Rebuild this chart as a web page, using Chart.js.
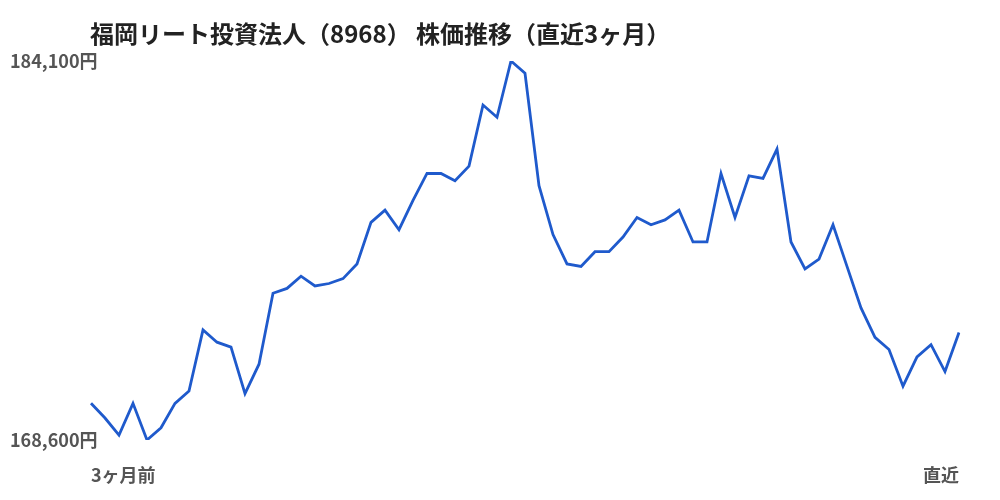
<!DOCTYPE html>
<html lang="ja">
<head>
<meta charset="utf-8">
<script src="https://cdn.jsdelivr.net/npm/chart.js@4"></script>
<style>
  html, body { margin: 0; padding: 0; background: #fff; }
  #wrap { width: 1000px; height: 500px; }
</style>
</head>
<body>
<div id="wrap"><canvas id="priceChart"></canvas></div>
<script>
const title = "福岡リート投資法人（8968） 株価推移（直近3ヶ月）";
const priceMin = 168600;
const priceMax = 184100;

// 63 trading days, oldest first
const prices = [
  170100, 169500, 168800, 170100, 168600, 169100, 170100, 170600, 173100, 172600,
  172400, 170500, 171700, 174600, 174800, 175300, 174900, 175000, 175200, 175800,
  177500, 178000, 177200, 178400, 179500, 179500, 179200, 179800, 182300, 181800,
  184100, 183600, 179000, 177000, 175800, 175700, 176300, 176300, 176900, 177700,
  177400, 177600, 178000, 176700, 176700, 179500, 177700, 179400, 179300, 180500,
  176700, 175600, 176000, 177400, 175700, 174000, 172800, 172300, 170800, 172000,
  172500, 171400, 173000
];
const dayLabels = prices.map((p, i) => i === 0 ? "3ヶ月前" : (i === prices.length - 1 ? "直近" : ""));

const FONT = "'Noto Sans CJK JP', 'Noto Sans', sans-serif";

// title drawn at chart area left edge
const titlePlugin = {
  id: "leftTitle",
  afterDraw(chart) {
    const { ctx, chartArea } = chart;
    ctx.save();
    ctx.font = `bold 24px ${FONT}`;
    ctx.fillStyle = "#222";
    ctx.textAlign = "left";
    ctx.textBaseline = "middle";
    ctx.fillText(title, chartArea.left - 1, 34);
    ctx.restore();
  }
};

new Chart(document.getElementById("priceChart"), {
  type: "line",
  data: {
    labels: dayLabels,
    datasets: [{
      data: prices,
      borderColor: "#1f5acc",
      borderWidth: 2.8,
      pointRadius: 0,
      tension: 0,
      fill: false
    }]
  },
  options: {
    responsive: true,
    maintainAspectRatio: false,
    animation: false,
    layout: { padding: { left: 91, right: 41, top: 61, bottom: 0 } },
    plugins: { legend: { display: false }, tooltip: { enabled: false } },
    scales: {
      x: {
        grid: { display: false, drawTicks: false },
        border: { display: false },
        ticks: {
          autoSkip: false,
          maxRotation: 0,
          align: "inner",
          padding: 24,
          color: "#555",
          font: { family: FONT, size: 18, weight: "bold" }
        },
        afterFit(scale) { scale.height = 60; }
      },
      y: {
        min: priceMin,
        max: priceMax,
        grid: { display: false, drawTicks: false },
        border: { display: false },
        afterBuildTicks(scale) {
          scale.ticks = [{ value: priceMin }, { value: priceMax }];
        },
        ticks: {
          mirror: true,
          crossAlign: "near",
          padding: -81,
          color: "#555",
          font: { family: FONT, size: 18, weight: "bold" },
          callback: v => v.toLocaleString("en-US") + "円"
        },
        afterFit(scale) { scale.width = 0; }
      }
    }
  },
  plugins: [titlePlugin]
});
</script>
</body>
</html>
